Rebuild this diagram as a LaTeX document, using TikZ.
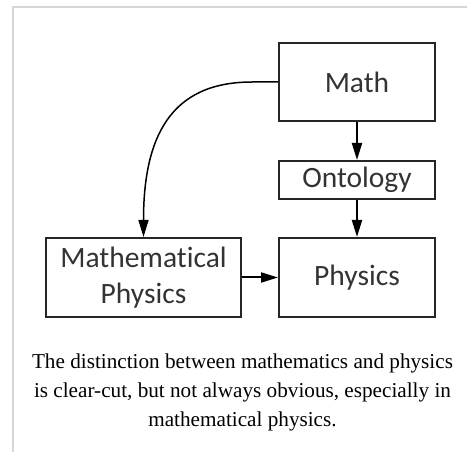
\documentclass[tikz,border=0pt]{standalone}
\usepackage{fontspec}
\setmainfont{Liberation Serif}
\newfontfamily\boxfont[Ligatures=NoCommon]{Carlito}
\usetikzlibrary{arrows.meta}

\begin{document}
\begin{tikzpicture}[
  x=1pt, y=-1pt,
  box/.style={draw=black!85, line width=2pt, inner sep=0pt, text=black!80,
    font=\boxfont\fontsize{29.5}{36}\selectfont, align=center},
  link/.style={draw=black, line width=2pt, -{Triangle[length=17pt,width=10pt]}},
]
\definecolor{Frame}{HTML}{D6D6D6}
\useasboundingbox (0,0) rectangle (467,452);

% ---- thumbnail frame ----
\draw[Frame, line width=1.5pt] (13,452) -- (13,7) -- (467,7);

% ---- boxes ----
\node[box, minimum width=156pt, minimum height=78pt] (math)  at (357,82)    {Math};
\node[box, minimum width=156pt, minimum height=38pt] (onto)  at (357,180)   {Ontology};
\node[box, minimum width=156pt, minimum height=79pt] (phys)  at (357,277.5) {Physics};
\node[box, minimum width=195pt, minimum height=79pt] (mphys) at (143.5,277.5) {Mathematical\\Physics};

% ---- arrows ----
\draw[link] (math) -- (onto);
\draw[link] (onto) -- (phys);
\draw[link] (mphys) -- (phys);
\draw[link, line width=1.5pt] (math.west) -- ++(-26,0)
  .. controls +(-83,0) and +(0,-98) .. (mphys.north);

% ---- caption ----
\node[font=\fontsize{21.2}{29}\selectfont, align=center, inner sep=0pt, anchor=north]
  (caption) at (242.5,353.7)
  {The distinction between mathematics and physics\\
   is clear-cut, but not always obvious, especially in\\
   mathematical physics.};
\end{tikzpicture}
\end{document}
